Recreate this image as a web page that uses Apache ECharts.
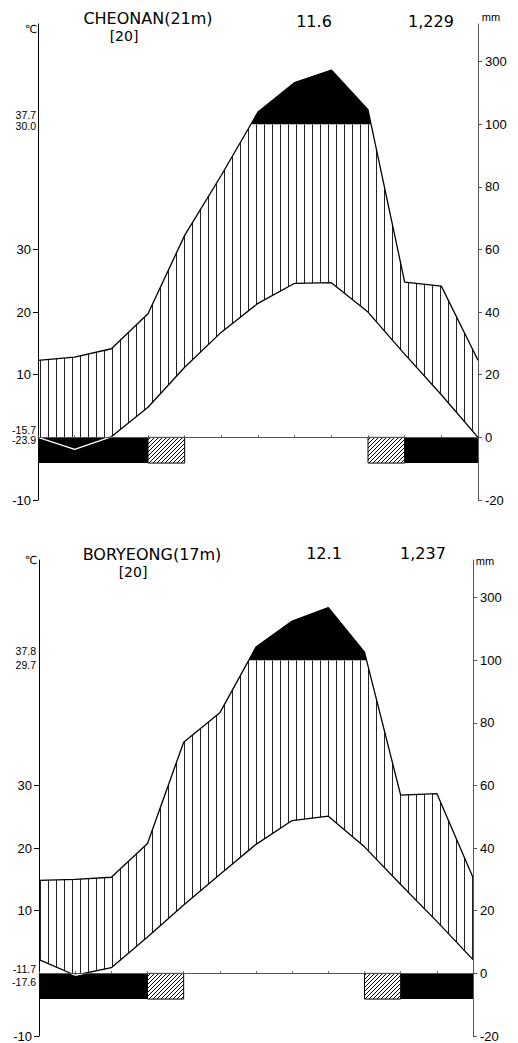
<!DOCTYPE html>
<html lang="en">
<head>
<meta charset="UTF-8">
<title>Climate diagrams - Cheonan / Boryeong</title>
<script src="https://cdn.jsdelivr.net/npm/echarts@6/dist/echarts.min.js"></script>
<style>
  body { margin: 0; background: #fff; }
  #main { width: 518px; height: 1043px; }
</style>
</head>
<body>
<div id="main"></div>
<script>
// 13 month points: Dec, Jan ... Dec
const months = ['D', 'J', 'F', 'M', 'A', 'M', 'J', 'J', 'A', 'S', 'O', 'N', 'D'];

// monthly mean temperature (°C) and precipitation (mm)
const cheonanTemp = [0.0, -1.9, 0.1, 4.8, 11.2, 16.8, 21.4, 24.6, 24.7, 20.0, 13.3, 6.8, 0.0];
const cheonanPrec = [24.6, 25.6, 28.3, 39.5, 64.5, 83.7, 139, 233, 273, 146, 49.6, 48.3, 24.6];
const boryeongTemp = [2.2, -0.3, 0.9, 5.8, 10.9, 15.8, 20.6, 24.4, 25.1, 20.2, 14.2, 8.3, 2.2];
const boryeongPrec = [29.7, 30.0, 30.7, 41.5, 73.8, 83.2, 142, 225, 268, 126, 56.9, 57.4, 30.6];

// frost months (index ranges): sure frost (black) and possible frost (hatched)
const frostSure = [[0, 3], [10, 12]];
const frostPossible = [[3, 4], [9, 10]];

// header texts
const stationNames = ['CHEONAN(21m)', 'BORYEONG(17m)'];
const stationYears = ['[20]', '[20]'];
const meanTemps = ['11.6', '12.1'];
const annualPrec = ['1,229', '1,237'];
const warmLabels = [['37.7', '30.0'], ['37.8', '29.7']];
const coldLabels = [['-15.7', '-23.9'], ['-11.7', '-17.6']];

// right axis tick values (mm), left axis tick values (°C)
const precTicks = [-20, 0, 20, 40, 60, 80, 100, 300];
const tempTicks = [-10, 10, 20, 30];

// 1 °C = 2 mm, above 100 mm the scale is reduced by 10
function precDisp(p) { return p <= 100 ? p : 100 + (p - 100) / 10; }
function tempDisp(t) { return t * 2; }
function dispToPrec(d) { return d <= 100 ? d : 100 + (d - 100) * 10; }

// points of a curve with the crossings of a level added
function withCrossings(vals, level) {
  const pts = [];
  vals.forEach((d, i) => {
    if (i > 0) {
      const d0 = vals[i - 1];
      if ((d0 - level) * (d - level) < 0) {
        pts.push([i - 1 + (level - d0) / (d - d0), level]);
      }
    }
    pts.push([i, d]);
  });
  return pts;
}

// only the parts of the temperature curve below 0 (gaps elsewhere)
function belowZero(vals) {
  const out = [];
  withCrossings(vals, 0).forEach(p => {
    if (p[1] <= 0) out.push(p);
    else if (out.length && out[out.length - 1] !== '-') out.push('-');
  });
  return out.map(p => p === '-' ? [null, null] : p);
}

function makeCanvas(w, h, draw) {
  const c = document.createElement('canvas');
  c.width = w; c.height = h;
  draw(c.getContext('2d'));
  return c;
}
const vHatch = makeCanvas(8, 8, g => {
  g.fillStyle = '#222';
  g.fillRect(0, 0, 1, 8);
});
const dHatch = makeCanvas(4, 4, g => {
  g.strokeStyle = '#000';
  g.lineWidth = 1;
  g.beginPath();
  g.moveTo(-1, 5); g.lineTo(5, -1);
  g.moveTo(-1, 1); g.lineTo(1, -1);
  g.moveTo(3, 5); g.lineTo(5, 3);
  g.stroke();
});
const vPattern = { image: vHatch, repeat: 'repeat', imageWidth: 8, imageHeight: 8 };
const dPattern = { image: dHatch, repeat: 'repeat', imageWidth: 4, imageHeight: 4 };

const layout = [
  {
    grid: { left: 38, top: 24, width: 440, height: 476 },
    name: [148, 18], years: [124, 36], mean: [314, 21], annual: [431, 21],
    mm: [491, 17], degC: [31, 29], warm: [115, 126], cold: [430, 440]
  },
  {
    grid: { left: 39, top: 560, width: 434, height: 476 },
    name: [152, 554], years: [133, 572], mean: [324, 553], annual: [423, 553],
    mm: [485, 561], degC: [31, 560], warm: [651, 665], cold: [969, 982]
  }
];

const stations = [
  { temp: cheonanTemp, prec: cheonanPrec },
  { temp: boryeongTemp, prec: boryeongPrec }
];

const labelFont = { fontFamily: 'Liberation Sans', fontSize: 13, color: '#000' };
const BAR_DEPTH = 8.2;

let grids = [], xAxes = [], yAxes = [], series = [], graphics = [];

function txt(x, y, s, size, align, family) {
  return {
    type: 'text', x: x, y: y, silent: true,
    style: {
      text: s, font: size + 'px "' + family + '"', fill: '#000',
      textAlign: align, textVerticalAlign: 'middle', align: align, verticalAlign: 'middle'
    }
  };
}

stations.forEach((st, k) => {
  const L = layout[k];
  grids.push(L.grid);
  xAxes.push({
    type: 'value', gridIndex: k, min: 0, max: 12, interval: 1, z: 10,
    axisLine: { onZero: true, lineStyle: { color: '#555', width: 1 } },
    axisTick: { inside: true, length: 2, lineStyle: { color: '#555' } },
    axisLabel: { show: false }, splitLine: { show: false }
  });
  yAxes.push({
    type: 'value', gridIndex: k, position: 'left', min: -20, max: 132, interval: 20, z: 10,
    axisLine: { show: true, onZero: false, lineStyle: { color: '#000', width: 1 } },
    axisTick: { show: true, length: 5, customValues: tempTicks.map(tempDisp), lineStyle: { color: '#000' } },
    axisLabel: Object.assign({ margin: 7, customValues: tempTicks.map(tempDisp), formatter: v => String(v / 2) }, labelFont),
    splitLine: { show: false }
  });
  yAxes.push({
    type: 'value', gridIndex: k, position: 'right', min: -20, max: 132, interval: 20, z: 10,
    axisLine: { show: true, onZero: false, lineStyle: { color: '#555', width: 1 } },
    axisTick: { show: true, length: 4, customValues: precTicks.map(precDisp), lineStyle: { color: '#555' } },
    axisLabel: Object.assign({ margin: 7, customValues: precTicks.map(precDisp), formatter: v => String(Math.round(dispToPrec(v))) }, labelFont),
    splitLine: { show: false }
  });

  const precD = st.prec.map(precDisp);
  const tempD = st.temp.map(tempDisp);
  const pts = withCrossings(precD, 100);
  const tempPts = tempD.map((t, i) => [i, t]);
  const base = { xAxisIndex: k, yAxisIndex: 2 * k, type: 'line', symbol: 'none', showSymbol: false, silent: true, animation: false };

  // humid season: vertical hatching below the 100 mm line
  series.push(Object.assign({}, base, {
    z: 2, data: pts.map(p => [p[0], Math.min(p[1], 100)]),
    lineStyle: { width: 0, opacity: 0 },
    areaStyle: { color: vPattern, opacity: 1, origin: 'start' }
  }));
  // very wet season: black above 100 mm
  series.push(Object.assign({}, base, {
    z: 2, data: pts.map(p => [p[0], Math.max(p[1], 100)]),
    lineStyle: { width: 0, opacity: 0 },
    areaStyle: { color: '#000', opacity: 1, origin: 100 }
  }));
  // clear below the temperature curve
  series.push(Object.assign({}, base, {
    z: 3, data: tempPts,
    lineStyle: { width: 0, opacity: 0 },
    areaStyle: { color: '#fff', opacity: 1, origin: 'start' }
  }));
  // temperature curve
  series.push(Object.assign({}, base, {
    z: 3, data: tempPts,
    lineStyle: { color: '#000', width: 1.3 }
  }));
  // frost bars
  const areas = frostSure.map(r => [
    { xAxis: r[0], yAxis: 0, itemStyle: { color: '#000' } },
    { xAxis: r[1], yAxis: -BAR_DEPTH }
  ]).concat(frostPossible.map(r => [
    { xAxis: r[0], yAxis: 0, itemStyle: { color: dPattern, borderColor: '#000', borderWidth: 1 } },
    { xAxis: r[1], yAxis: -BAR_DEPTH }
  ]));
  series.push(Object.assign({}, base, {
    z: 4, data: tempPts, lineStyle: { opacity: 0, width: 0 },
    markArea: { z: 5, silent: true, label: { show: false }, data: areas }
  }));
  // temperature below 0 °C, white over the frost bar
  series.push(Object.assign({}, base, {
    z: 6, data: belowZero(tempD), connectNulls: false,
    lineStyle: { color: '#fff', width: 1.3 }
  }));
  // precipitation curve
  series.push(Object.assign({}, base, {
    z: 7, data: precD.map((d, i) => [i, d]),
    lineStyle: { color: '#000', width: 1.3 }
  }));

  graphics.push(txt(L.name[0], L.name[1], stationNames[k], 16, 'center', 'DejaVu Sans'));
  graphics.push(txt(L.years[0], L.years[1], stationYears[k], 14, 'center', 'DejaVu Sans'));
  graphics.push(txt(L.mean[0], L.mean[1], meanTemps[k], 16, 'center', 'DejaVu Sans'));
  graphics.push(txt(L.annual[0], L.annual[1], annualPrec[k], 16, 'center', 'DejaVu Sans'));
  graphics.push(txt(L.mm[0], L.mm[1], 'mm', 11, 'center', 'Liberation Sans'));
  graphics.push(txt(L.degC[0], L.degC[1], '℃', 11, 'center', 'DejaVu Sans'));
  graphics.push(txt(36, L.warm[0], warmLabels[k][0], 10.5, 'right', 'Liberation Sans'));
  graphics.push(txt(36, L.warm[1], warmLabels[k][1], 10.5, 'right', 'Liberation Sans'));
  graphics.push(txt(36, L.cold[0], coldLabels[k][0], 10.5, 'right', 'Liberation Sans'));
  graphics.push(txt(36, L.cold[1], coldLabels[k][1], 10.5, 'right', 'Liberation Sans'));
});

const myChart = echarts.init(document.getElementById('main'), null, { renderer: 'svg' });
myChart.setOption({
  animation: false,
  backgroundColor: '#fff',
  grid: grids,
  xAxis: xAxes,
  yAxis: yAxes,
  series: series,
  graphic: graphics
});
</script>
</body>
</html>
